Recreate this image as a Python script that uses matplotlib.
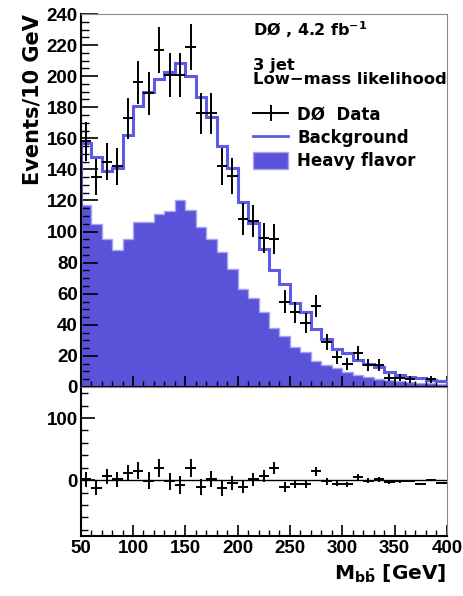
import numpy as np
import matplotlib
matplotlib.use("Agg")
import matplotlib.pyplot as plt
from matplotlib.patches import Patch
from matplotlib.lines import Line2D

plt.rcParams['font.family'] = ['DejaVu Sans']
plt.rcParams['font.weight'] = 'bold'
plt.rcParams['mathtext.fontset'] = 'custom'
plt.rcParams['mathtext.rm'] = 'DejaVu Sans:bold'
plt.rcParams['mathtext.it'] = 'DejaVu Sans:bold'
plt.rcParams['mathtext.bf'] = 'DejaVu Sans:bold'

# bins of 10 GeV from 50 to 400
edges = np.arange(50, 401, 10)
centers = edges[:-1] + 5

# DØ data (events per bin)
data = [158, 135, 145, 142, 173, 196, 189, 217, 201, 201,
        219, 176, 176, 142, 136, 108, 107, 96, 95, 55,
        48, 41, 52, 29, 19, 15, 22, 14, 14, 6,
        6, 5, 0, 5, 0]

# total background
background = [157, 148, 139, 141, 162, 181, 190, 198, 203, 208.6,
              200, 186.7, 174, 155, 141, 119, 105.5, 89, 75, 66,
              54, 48, 37.5, 31, 24.6, 21.8, 17.5, 14.9, 12.8, 9.5,
              7.8, 6.5, 5.7, 4.8, 3.9]

# heavy flavor component
heavy_flavor = [117, 105, 95, 88, 95, 106, 106, 111, 113, 120,
                114, 103, 95, 87, 76, 63, 57, 48, 38, 33,
                26, 22.4, 16.4, 14.3, 12.4, 9.5, 8, 6.3, 5, 4.2,
                3.6, 3.2, 2.8, 2.4, 2.0]

data = np.array(data, dtype=float)
background = np.array(background)
heavy_flavor = np.array(heavy_flavor)
err = np.sqrt(data)
resid = data - background

hf_color = '#5a52d8'
bkg_color = '#5b5be6'
tick_font = {'family': 'Liberation Sans', 'weight': 'bold', 'size': 13.5}

fig = plt.figure(figsize=(4.64, 5.96), dpi=100)
ax = fig.add_axes([0.174, 0.3507, 0.789, 0.6258])
ax2 = fig.add_axes([0.174, 0.1007, 0.789, 0.25])

# upper panel
ax.stairs(heavy_flavor, edges, fill=True, color=hf_color, zorder=1)
ax.stairs(heavy_flavor, edges, color='#a7a4f2', lw=1, zorder=1.5)
ax.stairs(background, edges, color=bkg_color, lw=2.2, zorder=2)
m = data > 0
ax.errorbar(centers[m], data[m], xerr=5, yerr=err[m], fmt='none',
            ecolor='black', elinewidth=1.4, capsize=0, zorder=3)

ax.set_xlim(50, 400)
ax.set_ylim(0, 240)
ax.set_yticks(np.arange(0, 241, 20))
ax.set_yticks(np.arange(0, 241, 5), minor=True)
ax.set_xticks(np.arange(50, 401, 50))
ax.set_xticks(np.arange(50, 401, 10), minor=True)
ax.tick_params(axis='both', which='both', direction='in', top=False, right=False)
ax.tick_params(axis='y', which='major', length=12, width=1.2, pad=2)
ax.tick_params(axis='y', which='minor', length=6, width=1)
ax.tick_params(axis='x', which='major', length=8, width=1.2, labelbottom=False)
ax.tick_params(axis='x', which='minor', length=4, width=1)
for s in ['top', 'right']:
    ax.spines[s].set_color('#888888')
    ax.spines[s].set_linewidth(0.8)
ax.spines['left'].set_linewidth(1.5)
ax.spines['bottom'].set_linewidth(1.5)
ax.set_ylabel('Events/10 GeV', fontsize=15, fontweight='bold', loc='top', labelpad=3)

fig.text(0.545, 0.950, r'DØ , 4.2 fb$^{\mathrm{-1}}$', fontsize=11.5,
         fontweight='bold', va='center')
fig.text(0.545, 0.903, '3 jet\nLow\u2212mass likelihood', fontsize=11.8,
         fontweight='bold', va='top', linespacing=0.95)

handles = [Line2D([], [], color='black', lw=1.4, marker='|', markersize=12,
                  markeredgewidth=1.4),
           Line2D([], [], color=bkg_color, lw=2),
           Patch(facecolor=hf_color, edgecolor='#a7a4f2')]
ax.legend(handles, ['DØ  Data', 'Background', 'Heavy flavor'],
          loc='upper left', bbox_to_anchor=(0.471, 0.755), frameon=False,
          handlelength=2.1, handleheight=1.25, handletextpad=0.55,
          labelspacing=0.28, borderaxespad=0, borderpad=0,
          prop={'weight': 'bold', 'size': 12})

# lower panel: data - background
ax2.axhline(0, color='black', lw=1)
ax2.errorbar(centers, resid, xerr=5, yerr=err, fmt='none',
             ecolor='black', elinewidth=1.4, capsize=0)
ax2.set_xlim(50, 400)
ax2.set_ylim(-90, 150)
ax2.set_yticks([0, 100])
ax2.set_yticks(np.arange(-80, 150, 20), minor=True)
ax2.set_xticks(np.arange(50, 401, 50))
ax2.set_xticks(np.arange(50, 401, 10), minor=True)
ax2.tick_params(axis='both', which='both', direction='in', top=False, right=False)
ax2.tick_params(axis='y', which='major', length=10, width=1.2, pad=2)
ax2.tick_params(axis='y', which='minor', length=5, width=1)
ax2.tick_params(axis='x', which='major', length=8, width=1.2, pad=3)
ax2.tick_params(axis='x', which='minor', length=4, width=1)
for s in ['top', 'right']:
    ax2.spines[s].set_color('#888888')
    ax2.spines[s].set_linewidth(0.8)
ax2.spines['left'].set_linewidth(1.5)
ax2.spines['bottom'].set_linewidth(1.5)
ax2.set_xlabel(r'M$_{\mathrm{b\bar{b}}}$ [GeV]', fontsize=14.5, fontweight='bold',
               loc='right', labelpad=4)

for a in (ax, ax2):
    for lab in a.get_xticklabels() + a.get_yticklabels():
        lab.set_fontproperties(tick_font)

fig.savefig('out.png', dpi=100)
